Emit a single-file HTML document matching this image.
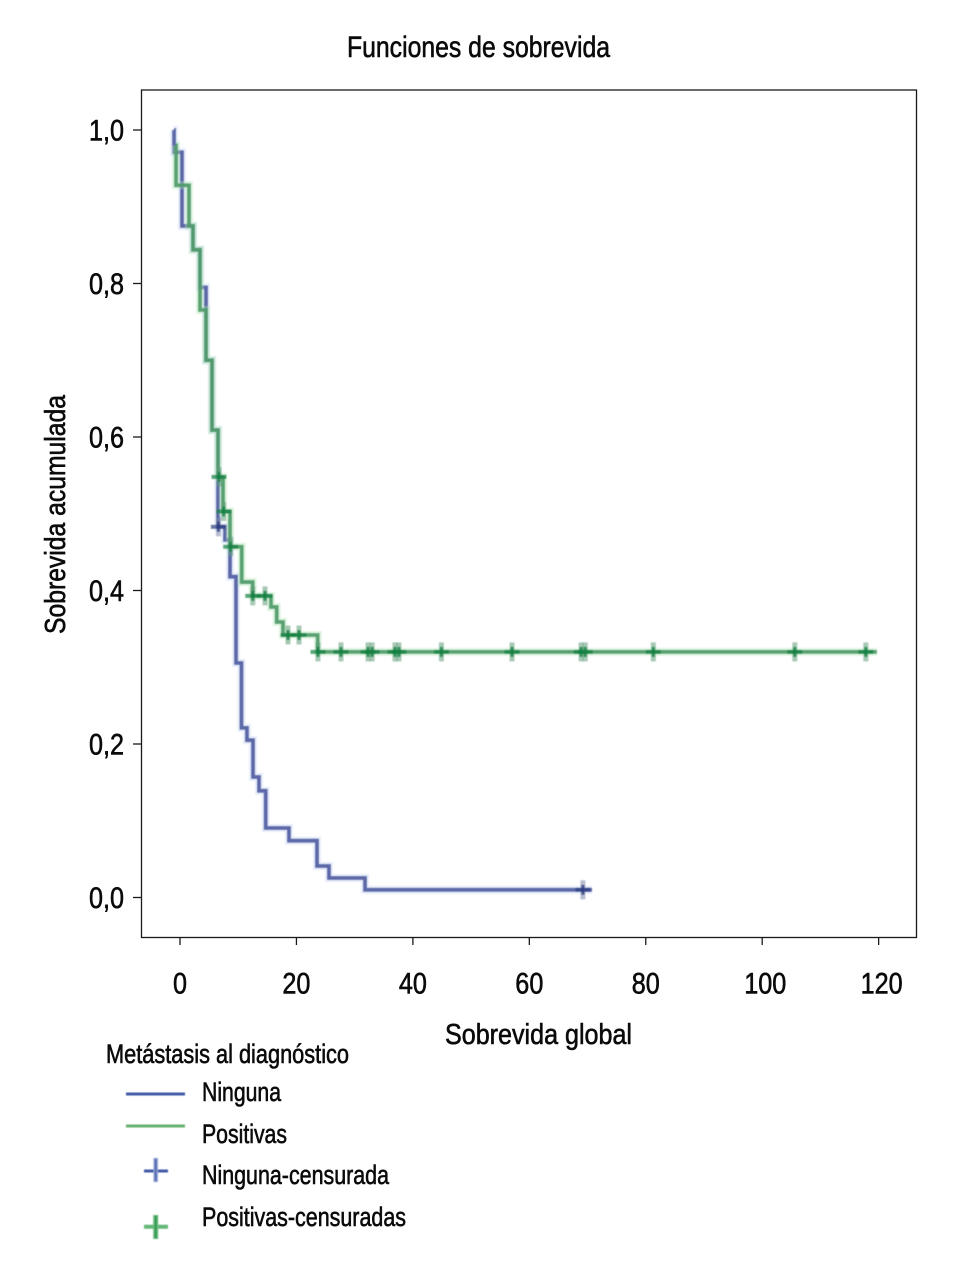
<!DOCTYPE html>
<html lang="es">
<head>
<meta charset="utf-8">
<title>Funciones de sobrevida</title>
<style>
html,body{margin:0;padding:0;background:#fff;}
svg{display:block;}
text{font-family:"Liberation Sans",sans-serif;fill:#0a0a0a;stroke:#0a0a0a;stroke-width:0.6px;}
</style>
</head>
<body>
<svg id="chart" width="958" height="1275" viewBox="0 0 958 1275" xmlns="http://www.w3.org/2000/svg">
  <defs>
    <filter id="soft" x="-5%" y="-5%" width="110%" height="110%"><feGaussianBlur stdDeviation="0.6"/></filter>
  </defs>
  <rect x="0" y="0" width="958" height="1275" fill="#ffffff"/>
  <text x="347" y="57" font-size="30" textLength="263" lengthAdjust="spacingAndGlyphs">Funciones de sobrevida</text>
  <rect x="141.5" y="90" width="775" height="847.5" fill="none" stroke="#1a1a1a" stroke-width="1.3"/>
  <g id="axes"></g>
  <g id="marks" filter="url(#soft)"></g>
  <text transform="translate(65,634) rotate(-90)" font-size="29" textLength="239" lengthAdjust="spacingAndGlyphs">Sobrevida acumulada</text>
  <text x="445" y="1044" font-size="29" textLength="187" lengthAdjust="spacingAndGlyphs">Sobrevida global</text>
  <g>
    <text x="106" y="1063" font-size="26.5" textLength="243" lengthAdjust="spacingAndGlyphs">Metástasis al diagnóstico</text>
    <g filter="url(#soft)">
      <line x1="126" x2="185" y1="1094" y2="1094" stroke="#3f5aa6" stroke-width="3"/>
      <line x1="126" x2="185" y1="1126" y2="1126" stroke="#63b06f" stroke-width="3"/>
      <g>
        <line x1="144" x2="168" y1="1171" y2="1171" stroke="#3f5aa6" stroke-width="3"/>
        <line x1="155.7" x2="155.7" y1="1158" y2="1182" stroke="#8d9fd4" stroke-width="4.5"/>
        <line x1="155.7" x2="155.7" y1="1159" y2="1181" stroke="#3f5aa6" stroke-width="1.5"/>
      </g>
      <g>
        <line x1="144" x2="168" y1="1226.7" y2="1226.7" stroke="#63b878" stroke-width="4"/>
        <line x1="155.7" x2="155.7" y1="1215" y2="1239" stroke="#63b878" stroke-width="5"/>
        <line x1="155.7" x2="155.7" y1="1216" y2="1238" stroke="#1f8f45" stroke-width="1.5"/>
      </g>
    </g>
    <text x="202" y="1101" font-size="27" textLength="79" lengthAdjust="spacingAndGlyphs">Ninguna</text>
    <text x="202" y="1143" font-size="27" textLength="85" lengthAdjust="spacingAndGlyphs">Positivas</text>
    <text x="202" y="1184" font-size="27" textLength="187" lengthAdjust="spacingAndGlyphs">Ninguna-censurada</text>
    <text x="202" y="1226" font-size="27" textLength="204" lengthAdjust="spacingAndGlyphs">Positivas-censuradas</text>
  </g>
</svg>
<script>
const xTickValues = [0, 20, 40, 60, 80, 100, 120];
const yTickValues = [0, 0.2, 0.4, 0.6, 0.8, 1.0];
const yTickLabels = ["0,0", "0,2", "0,4", "0,6", "0,8", "1,0"];

const ningunaTimes = [-1.03, -1.02, 0.34, 2.23, 3.44, 4.47, 5.5, 6.53, 7.73, 8.59, 9.62, 10.56, 11.5, 12.54, 13.57, 14.72, 18.72, 23.53, 25.59, 31.78];
const ningunaSurvival = [1.0, 0.971, 0.875, 0.844, 0.795, 0.70, 0.609, 0.483, 0.466, 0.418, 0.3055, 0.221, 0.205, 0.157, 0.139, 0.0906, 0.074, 0.041, 0.0254, 0.01];
const ningunaEnd = 70.77;
const ningunaCensored = [6.6, 69.2];

const positivasTimes = [-0.69, -0.68, 1.55, 2.23, 3.44, 4.47, 5.5, 6.53, 7.39, 8.59, 10.6, 12.49, 15.63, 16.61, 17.69, 23.65];
const positivasSurvival = [0.98, 0.928, 0.875, 0.844, 0.7655, 0.70, 0.609, 0.548, 0.503, 0.457, 0.411, 0.393, 0.3785, 0.359, 0.342, 0.32];
const positivasEnd = 119.7;
const positivasCensored = [6.7, 7.5, 8.7, 12.5, 14.6, 18.55, 20.44, 23.7, 27.65, 32.3, 33, 36.93, 37.6, 44.9, 57.03, 68.9, 69.6, 81.3, 105.6, 117.8];

function xScale(t) { return 180 + t * 5.822; }
function yScale(s) { return 897.5 - s * 767.5; }

const NS = "http://www.w3.org/2000/svg";
function make(tag, attrs, parent) {
  const el = document.createElementNS(NS, tag);
  for (const k in attrs) el.setAttribute(k, attrs[k]);
  parent.appendChild(el);
  return el;
}

const axes = document.getElementById("axes");
const marks = document.getElementById("marks");

xTickValues.forEach(function (v) {
  const px = xScale(v);
  const tick = make("line", { x1: px, x2: px, y1: 937.5, y2: 945, stroke: "#1a1a1a", "stroke-width": 1.3 }, axes);
  
  
  const label = make("text", { transform: "translate(" + (px + (v >= 100 ? 3 : 0)) + ",993.5) scale(0.84,1)", "font-size": 30, "text-anchor": "middle" }, axes);
  
  
  label.textContent = String(v);
});

yTickValues.forEach(function (v, i) {
  const py = yScale(v);
  const tick = make("line", { x1: 133, x2: 141.5, y1: py, y2: py, stroke: "#1a1a1a", "stroke-width": 1.3 }, axes);
  
  
  const label = make("text", { transform: "translate(124," + (py + 10.5) + ") scale(0.84,1)", "font-size": 30, "text-anchor": "end" }, axes);
  
  
  label.textContent = yTickLabels[i];
});

function stepPath(times, survival, end) {
  let d = "M" + xScale(times[0]) + "," + yScale(survival[0]);
  for (let i = 1; i < times.length; i++) {
    d += "H" + xScale(times[i]) + "V" + yScale(survival[i]);
  }
  return d + "H" + xScale(end);
}

function survivalAt(times, survival, t) {
  let s = survival[0];
  for (let i = 0; i < times.length; i++) {
    if (times[i] <= t) s = survival[i];
  }
  return s;
}

function drawSeries(name, times, survival, end, censored, lineColor, haloColor, crossColor, crossDark, lineOpacity) {
  const d = stepPath(times, survival, end);
  const halo = make("path", { d: d, fill: "none", stroke: haloColor, "stroke-width": 8, "stroke-opacity": 0.4 }, marks);
  
  
  const line = make("path", { d: d, fill: "none", stroke: lineColor, "stroke-width": 3.8, "stroke-opacity": lineOpacity }, marks);
  
  line.setAttribute('data-series', name);
  
  censored.forEach(function (t) {
    const cx = xScale(t);
    const cy = yScale(survivalAt(times, survival, t));
    const g = make("g", {}, marks);
    
    g.setAttribute('data-series', name);
    
    make("line", { x1: cx, x2: cx, y1: cy - 9.5, y2: cy + 9.5, stroke: crossColor, "stroke-width": 5, "stroke-opacity": 0.55 }, g);
    make("line", { x1: cx - 7.5, x2: cx + 7.5, y1: cy, y2: cy, stroke: crossDark, "stroke-width": 4, "stroke-opacity": 0.7 }, g);
    make("line", { x1: cx, x2: cx, y1: cy - 5, y2: cy + 5, stroke: crossDark, "stroke-width": 3, "stroke-opacity": 0.75 }, g);
  });
}

drawSeries("ninguna", ningunaTimes, ningunaSurvival, ningunaEnd, ningunaCensored, "#5c68a8", "#c3d3f2", "#7d88a8", "#2a3a80", 1);
drawSeries("positivas", positivasTimes, positivasSurvival, positivasEnd, positivasCensored, "#4f9a68", "#aee6b8", "#5f9a78", "#0f8040", 0.92);
</script>
</body>
</html>
